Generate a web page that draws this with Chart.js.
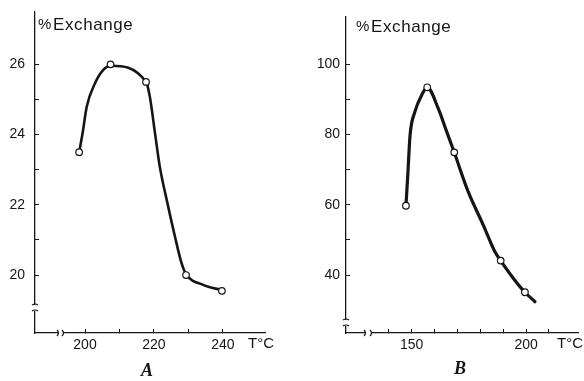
<!DOCTYPE html>
<html><head><meta charset="utf-8">
<script src="https://cdn.jsdelivr.net/npm/chart.js@4/dist/chart.umd.min.js"></script>
<style>
html,body{margin:0;padding:0;background:#fff;}
#wrap{position:relative;width:584px;height:381px;overflow:hidden;background:#fff;}
#boxA{position:absolute;left:0;top:0;width:290px;height:381px;}
#boxB{position:absolute;left:290px;top:0;width:294px;height:381px;}
</style></head><body>
<div id="wrap">
  <div id="boxA"><canvas id="cA" width="290" height="381"></canvas></div>
  <div id="boxB"><canvas id="cB" width="294" height="381"></canvas></div>
</div>
<script>
// ---- Panel A: measured points (T °C, % exchange) ----
const tempA = [198.3, 207.4, 217.7, 229.3, 239.7];
const exchA = [23.5, 26.0, 25.5, 20.0, 19.55];
// drawn curve through A
const curveTempA = [198.3, 199.3, 200.5, 202.9, 205.3, 207.4, 217.7, 218.8, 220.3, 221.7, 223.7, 226.1, 228.0, 229.3, 234.3, 239.7];
const curveExchA = [23.5, 24.04, 24.79, 25.46, 25.84, 25.96, 25.5, 25.08, 24.04, 23.08, 22.14, 21.09, 20.34, 20.03, 19.72, 19.57];
// ---- Panel B ----
const tempB = [147.5, 156.8, 168.6, 188.9, 199.5];
const exchB = [59.7, 93.4, 74.9, 44.1, 35.1];
const curveTempB = [147.5, 148.3, 149.3, 151.4, 154.4, 156.8, 161.6, 165.3, 168.6, 174.7, 181.3, 186.4, 188.9, 194.4, 199.5, 203.9];
const curveExchB = [59.7, 68.4, 79.8, 86.4, 91.2, 93.4, 87.4, 80.8, 74.9, 63.7, 54.2, 46.6, 44.1, 39.1, 35.1, 32.4];
// ---- tick marks and tick labels ----
const xTicksA = [200, 210, 220, 230, 240];
const yTicksA = [20, 21, 22, 23, 24, 25, 26];
const xLabelsA = [200, 220, 240];
const yLabelsA = [20, 22, 24, 26];
const xTicksB = [140, 150, 160, 170, 180, 190, 200, 210];
const yTicksB = [40, 50, 60, 70, 80, 90, 100];
const xLabelsB = [150, 200];
const yLabelsB = [40, 60, 80, 100];

const INK = '#151515';
const toXY = (xs, ys) => xs.map((x, i) => ({x, y: ys[i]}));

const decor = {
  id: 'decor',
  afterDraw(chart, args, o) {
    const ctx = chart.ctx, a = chart.chartArea;
    ctx.save();
    ctx.strokeStyle = INK; ctx.lineWidth = 1.2;
    // y-axis break
    const yb = o.yBreak;
    ctx.fillStyle = '#fff'; ctx.fillRect(a.left - 3, yb[0], 6, yb[1] - yb[0]);
    ctx.beginPath();
    ctx.moveTo(a.left - 3, yb[0]); ctx.quadraticCurveTo(a.left, yb[0] - 2, a.left + 3, yb[0]);
    ctx.moveTo(a.left - 3, yb[1]); ctx.quadraticCurveTo(a.left, yb[1] - 2, a.left + 3, yb[1]);
    ctx.stroke();
    // x-axis break
    const xb = o.xBreak, yy = a.bottom;
    ctx.fillStyle = '#fff'; ctx.fillRect(xb[0], yy - 2, xb[1] - xb[0], 4);
    ctx.beginPath();
    ctx.moveTo(xb[0] - 1, yy - 3); ctx.quadraticCurveTo(xb[0] + 2, yy, xb[0] - 1, yy + 3);
    ctx.moveTo(xb[1] - 1, yy - 3); ctx.quadraticCurveTo(xb[1] + 2, yy, xb[1] - 1, yy + 3);
    ctx.stroke();
    // texts
    ctx.fillStyle = INK;
    o.texts.forEach(t => {
      ctx.font = t.font;
      ctx.textAlign = t.align || 'left';
      ctx.textBaseline = 'middle';
      if ('letterSpacing' in ctx) ctx.letterSpacing = t.ls || '0px';
      ctx.fillText(t.text, t.x, t.y);
    });
    ctx.restore();
  }
};

function zeroPad(sc) { sc.paddingTop = 0; sc.paddingBottom = 0; sc.paddingLeft = 0; sc.paddingRight = 0; }

function panel(canvasId, s) {
  const tickFont = {family: '"Liberation Sans", Arial, sans-serif', size: 14};
  return new Chart(document.getElementById(canvasId), {
    type: 'scatter',
    data: {
      datasets: [
        {
          data: toXY(s.mx, s.my), order: 0, showLine: false,
          pointRadius: 3.3, pointBorderWidth: 1.2,
          pointBackgroundColor: '#fff', pointBorderColor: INK
        },
        {
          data: toXY(s.cx, s.cy), order: 1, showLine: true,
          borderColor: INK, borderWidth: s.lw, pointRadius: 0,
          cubicInterpolationMode: 'monotone', fill: false,
          borderCapStyle: 'round', borderJoinStyle: 'round'
        }
      ]
    },
    options: {
      responsive: false, animation: false, devicePixelRatio: 1,
      layout: {padding: {top: s.padTop, right: s.padRight, left: 0, bottom: 0}},
      plugins: {legend: {display: false}, tooltip: {enabled: false}, decor: s.decor},
      scales: {
        x: {
          type: 'linear', min: s.xMin, max: s.xMax,
          afterFit: sc => { sc.height = 48; zeroPad(sc); },
          afterBuildTicks: sc => { sc.ticks = s.xT.map(v => ({value: v})); },
          border: {display: true, color: INK, width: 1.3},
          grid: {drawOnChartArea: false, drawTicks: true, tickLength: -4, color: INK, lineWidth: 1},
          ticks: {
            autoSkip: false, maxRotation: 0, color: INK, font: tickFont, padding: 8,
            callback: v => s.xLab.includes(v) ? String(v) : ''
          }
        },
        y: {
          type: 'linear', min: s.yMin, max: s.yMax,
          afterFit: sc => { sc.width = s.yW; zeroPad(sc); },
          afterBuildTicks: sc => { sc.ticks = s.yT.map(v => ({value: v})); },
          border: {display: true, color: INK, width: 1.3},
          grid: {drawOnChartArea: false, drawTicks: true, tickLength: -4, color: INK, lineWidth: 1},
          ticks: {
            autoSkip: false, color: INK, font: tickFont, padding: s.yPad,
            callback: v => s.yLab.includes(v) ? String(v) : ''
          }
        }
      }
    },
    plugins: [decor]
  });
}

panel('cA', {
  mx: tempA, my: exchA, cx: curveTempA, cy: curveExchA, lw: 2.6,
  xMin: 185.5, xMax: 252.2, xT: xTicksA, xLab: xLabelsA,
  yMin: 18.35, yMax: 27.49, yT: yTicksA, yLab: yLabelsA,
  yW: 35, yPad: 14, padTop: 12, padRight: 25,
  decor: {
    yBreak: [305, 311], xBreak: [58, 63],
    texts: [
      {text: '%', x: 38, y: 25, font: '15px "Liberation Sans", Arial, sans-serif'},
      {text: 'Exchange', x: 53, y: 25, font: '17px "Liberation Sans", Arial, sans-serif', ls: '0.6px'},
      {text: 'T°C', x: 248, y: 344, font: '15px "Liberation Sans", Arial, sans-serif'},
      {text: 'A', x: 147, y: 371, align: 'center', font: 'bold italic 18px "Liberation Serif", serif'}
    ]
  }
});

panel('cB', {
  mx: tempB, my: exchB, cx: curveTempB, cy: curveExchB, lw: 3.2,
  xMin: 121.3, xMax: 222.7, xT: xTicksB, xLab: xLabelsB,
  yMin: 23.5, yMax: 113.4, yT: yTicksB, yLab: yLabelsB,
  yW: 56, yPad: 10, padTop: 17, padRight: 6,
  decor: {
    yBreak: [320, 326], xBreak: [75, 81],
    texts: [
      {text: '%', x: 66, y: 27, font: '15px "Liberation Sans", Arial, sans-serif'},
      {text: 'Exchange', x: 81, y: 27, font: '17px "Liberation Sans", Arial, sans-serif', ls: '0.6px'},
      {text: 'T°C', x: 267, y: 344, font: '15px "Liberation Sans", Arial, sans-serif'},
      {text: 'B', x: 170, y: 369, align: 'center', font: 'bold italic 18px "Liberation Serif", serif'}
    ]
  }
});
</script>
</body></html>
